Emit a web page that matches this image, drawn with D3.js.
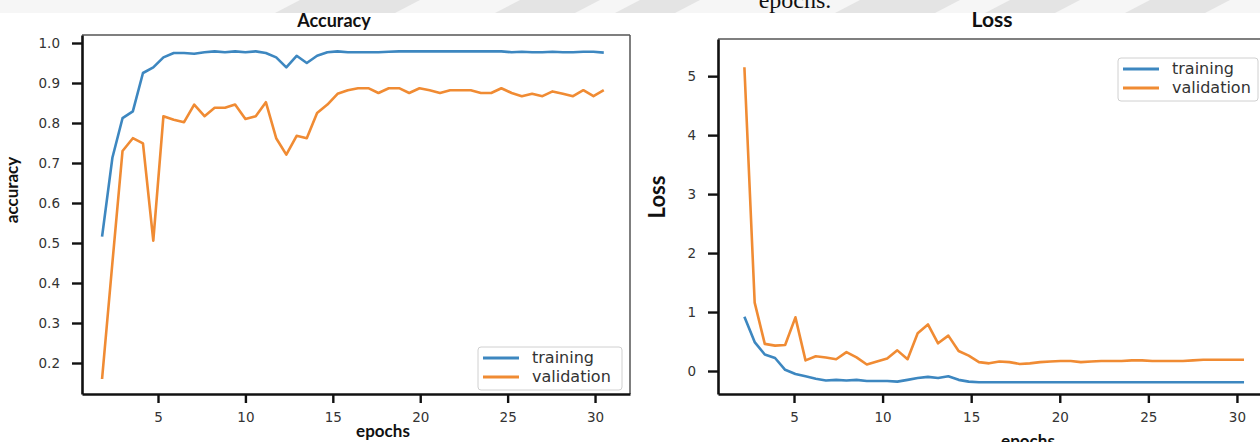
<!DOCTYPE html>
<html lang="en">
<head>
  <meta charset="UTF-8" />
  <title>Accuracy and Loss</title>
  <script src="https://cdn.jsdelivr.net/npm/d3@7"></script>
  <style>
    body { margin: 0; background: #fff; }
    svg { display: block; }
    .tick text { font-family: "DejaVu Sans", sans-serif; font-size: 13.5px; fill: #333; }
    .lbl { font-family: Lato, "Open Sans", sans-serif; font-weight: bold; fill: #111; }
    .leg { font-family: "DejaVu Sans", sans-serif; font-size: 16px; fill: #333; }
  </style>
</head>
<body>
  <div id="chart"></div>

  <script>
    // epochs as plotted (two panels were scaled a little differently)
    const epochs = [1.80, 2.39, 2.97, 3.56, 4.14, 4.73, 5.31, 5.90, 6.49, 7.07,
      7.66, 8.24, 8.83, 9.41, 10.00, 10.59, 11.17, 11.76, 12.34, 12.93,
      13.51, 14.10, 14.69, 15.27, 15.86, 16.44, 17.03, 17.61, 18.20, 18.79,
      19.37, 19.96, 20.54, 21.13, 21.71, 22.30, 22.89, 23.47, 24.06, 24.64,
      25.23, 25.81, 26.40, 26.99, 27.57, 28.16, 28.74, 29.33, 29.91, 30.50];
    const lossEpochs = [2.20, 2.78, 3.35, 3.93, 4.50, 5.08, 5.65, 6.23, 6.80, 7.38,
      7.96, 8.53, 9.11, 9.68, 10.26, 10.83, 11.41, 11.98, 12.56, 13.13,
      13.71, 14.29, 14.86, 15.44, 16.01, 16.59, 17.16, 17.74, 18.31, 18.89,
      19.47, 20.04, 20.62, 21.19, 21.77, 22.34, 22.92, 23.49, 24.07, 24.64,
      25.22, 25.80, 26.37, 26.95, 27.52, 28.10, 28.67, 29.25, 29.82, 30.40];

    const accTraining = [0.516, 0.713, 0.812, 0.829, 0.925, 0.939, 0.964, 0.975, 0.975, 0.973,
      0.977, 0.979, 0.977, 0.979, 0.977, 0.979, 0.975, 0.964, 0.939, 0.968,
      0.950, 0.968, 0.977, 0.979, 0.977, 0.977, 0.977, 0.977, 0.978, 0.979,
      0.979, 0.979, 0.979, 0.979, 0.979, 0.979, 0.979, 0.979, 0.979, 0.979,
      0.977, 0.978, 0.977, 0.977, 0.978, 0.977, 0.977, 0.978, 0.978, 0.976];
    const accValidation = [0.16, 0.45, 0.73, 0.762, 0.749, 0.506, 0.817, 0.808, 0.802, 0.846,
      0.817, 0.838, 0.838, 0.846, 0.81, 0.817, 0.852, 0.762, 0.721, 0.768,
      0.762, 0.825, 0.846, 0.873, 0.882, 0.887, 0.887, 0.875, 0.887, 0.887,
      0.875, 0.887, 0.882, 0.875, 0.882, 0.882, 0.882, 0.875, 0.875, 0.887,
      0.875, 0.867, 0.873, 0.867, 0.879, 0.873, 0.867, 0.882, 0.867, 0.882];

    const lossTraining = [0.92, 0.49, 0.28, 0.22, 0.02, -0.05, -0.09, -0.13, -0.16, -0.15,
      -0.16, -0.15, -0.17, -0.17, -0.17, -0.18, -0.15, -0.12, -0.10, -0.12,
      -0.09, -0.15, -0.18, -0.19, -0.19, -0.19, -0.19, -0.19, -0.19, -0.19,
      -0.19, -0.19, -0.19, -0.19, -0.19, -0.19, -0.19, -0.19, -0.19, -0.19,
      -0.19, -0.19, -0.19, -0.19, -0.19, -0.19, -0.19, -0.19, -0.19, -0.19];
    const lossValidation = [5.15, 1.16, 0.46, 0.43, 0.44, 0.91, 0.18, 0.25, 0.23, 0.20,
      0.32, 0.23, 0.11, 0.16, 0.21, 0.35, 0.20, 0.64, 0.79, 0.47,
      0.60, 0.34, 0.26, 0.15, 0.13, 0.16, 0.15, 0.12, 0.13, 0.15,
      0.16, 0.17, 0.17, 0.15, 0.16, 0.17, 0.17, 0.17, 0.18, 0.18,
      0.17, 0.17, 0.17, 0.17, 0.18, 0.19, 0.19, 0.19, 0.19, 0.19];

    const xTicks = [5, 10, 15, 20, 25, 30];
    const accTicks = [0.2, 0.3, 0.4, 0.5, 0.6, 0.7, 0.8, 0.9, 1.0];
    const lossTicks = [0, 1, 2, 3, 4, 5];
    const seriesNames = ["training", "validation"];
    const colors = ["#3d87c0", "#f08b33"];

    const width = 1260, height = 442;

    const svg = d3.select("#chart").append("svg")
      .attr("width", width)
      .attr("height", height);

    // scanned page header strip
    const band = svg.append("g");
    band.append("rect").attr("x", 0).attr("y", 0).attr("width", width).attr("height", 13).attr("fill", "#f6f6f6");
    [[300, 420], [520, 600], [640, 700], [860, 960], [1010, 1080], [1150, 1230]].forEach(([a, b]) => {
      band.append("path")
        .attr("d", `M${a},0 L${b},0 L${b - 25},13 L${a - 25},13 Z`)
        .attr("fill", "#e4e4e4");
    });
    band.append("text")
      .attr("x", 795).attr("y", 8)
      .attr("text-anchor", "middle")
      .attr("font-family", "'Liberation Serif', serif")
      .attr("font-size", 24)
      .attr("fill", "#111")
      .text("epochs.");
    svg.append("rect").attr("x", 0).attr("y", 13).attr("width", width).attr("height", 2).attr("fill", "#fff");

    function drawPanel(p) {
      const x = d3.scaleLinear().domain(p.xDomain).range(p.xRange);
      const y = d3.scaleLinear().domain(p.yDomain).range([394, p.top]);
      const g = svg.append("g");

      // thin top / right frame
      g.append("line")
        .attr("x1", p.xRange[0]).attr("x2", p.xRange[1])
        .attr("y1", y.range()[1]).attr("y2", y.range()[1])
        .attr("stroke", "#555").attr("stroke-width", 1.5);
      g.append("line")
        .attr("x1", p.xRange[1]).attr("x2", p.xRange[1])
        .attr("y1", y.range()[1]).attr("y2", y.range()[0])
        .attr("stroke", "#555").attr("stroke-width", 1.5);

      const line = d3.line().x(d => x(d[0])).y(d => y(d[1]));
      p.series.forEach((vals, i) => {
        g.append("path")
          .datum(p.xs.map((e, j) => [e, vals[j]]))
          .attr("fill", "none")
          .attr("stroke", colors[i])
          .attr("stroke-width", 2.6)
          .attr("stroke-linejoin", "round")
          .attr("d", line);
      });

      const yAxis = g.append("g")
        .attr("transform", `translate(${p.xRange[0]},0)`)
        .call(d3.axisLeft(y).tickValues(p.yTicks).tickFormat(p.yFormat)
          .tickSize(10).tickSizeOuter(0).tickPadding(12));
      const xAxis = g.append("g")
        .attr("transform", "translate(0,394)")
        .call(d3.axisBottom(x).tickValues(xTicks).tickFormat(d3.format("d"))
          .tickSize(9).tickSizeOuter(0).tickPadding(9));
      [yAxis, xAxis].forEach(a => {
        a.select(".domain").attr("stroke", "#111").attr("stroke-width", 2.6);
        a.selectAll(".tick line").attr("stroke", "#111").attr("stroke-width", 2.4);
      });

      g.append("text").attr("class", "lbl")
        .attr("x", p.titleX).attr("y", 27)
        .attr("text-anchor", "middle")
        .attr("font-size", p.titleSize)
        .text(p.title);
      g.append("text").attr("class", "lbl")
        .attr("x", p.xLabelX).attr("y", p.xLabelY)
        .attr("text-anchor", "middle")
        .attr("font-size", 17)
        .text("epochs");
      g.append("text").attr("class", "lbl")
        .attr("transform", `translate(${p.yLabelX},${p.yLabelY}) rotate(-90)`)
        .attr("text-anchor", "middle")
        .attr("font-size", p.yLabelSize)
        .text(p.yLabel);

      // legend
      const lg = g.append("g").attr("transform", `translate(${p.legend[0]},${p.legend[1]})`);
      lg.append("rect")
        .attr("width", p.legend[2]).attr("height", 43)
        .attr("rx", 3)
        .attr("fill", "#fff").attr("stroke", "#d0d0d0");
      seriesNames.forEach((name, i) => {
        lg.append("line")
          .attr("x1", 5).attr("x2", 41)
          .attr("y1", 11 + i * 19).attr("y2", 11 + i * 19)
          .attr("stroke", colors[i]).attr("stroke-width", 3);
        lg.append("text").attr("class", "leg")
          .attr("x", 54).attr("y", 16 + i * 19)
          .text(name);
      });
    }

    drawPanel({
      title: "Accuracy", titleX: 334, titleSize: 18,
      xs: epochs, series: [accTraining, accValidation],
      xDomain: [0.652, 32.0], xRange: [82, 630],
      yDomain: [0.1225, 1.02], top: 35,
      yTicks: accTicks, yFormat: d3.format(".1f"),
      yLabel: "accuracy", yLabelX: 18, yLabelY: 190, yLabelSize: 17,
      xLabelX: 383, xLabelY: 437,
      legend: [478, 347, 144]
    });

    drawPanel({
      title: "Loss", titleX: 992, titleSize: 21,
      xs: lossEpochs, series: [lossTraining, lossValidation],
      xDomain: [0.71, 31.64], xRange: [718, 1266],
      yDomain: [-0.39, 5.63], top: 39,
      yTicks: lossTicks, yFormat: d3.format("d"),
      yLabel: "Loss", yLabelX: 665, yLabelY: 197, yLabelSize: 22,
      xLabelX: 1028, xLabelY: 447,
      legend: [1118, 58, 140]
    });
  </script>
</body>
</html>
